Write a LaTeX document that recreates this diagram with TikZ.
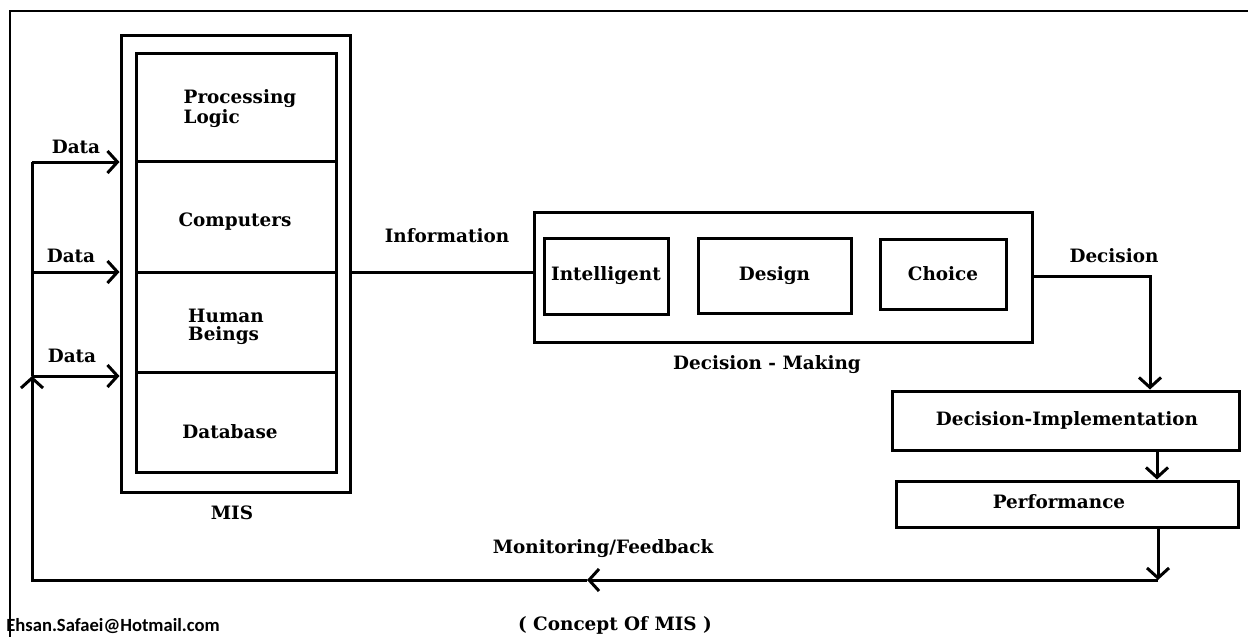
\documentclass[tikz,border=0pt]{standalone}
\usepackage{fontspec}
\setmainfont{DejaVu Serif}
\newfontfamily\mailfont{Carlito}
\usetikzlibrary{arrows.meta}
\begin{document}
\begin{tikzpicture}[x=0.5pt,y=-0.5pt,
  ln/.style={line width=1.5pt},
  box/.style={draw, line width=1.5pt, inner sep=0pt},
  lbl/.style={font=\fontsize{9.2pt}{9pt}\selectfont\bfseries, inner sep=0pt},
  arr/.style={line width=1.5pt, -{Straight Barb[length=5pt,width=11pt]}},
]
\useasboundingbox (0,0) rectangle (1248,637);
\draw[line width=1pt] (1248,11) -- (10,11) -- (10,637);

% MIS
\node[box, minimum width=114.5pt, minimum height=228.5pt] (mis) at (235.5,263.5) {};
\node[box, minimum width=100pt, minimum height=54pt] (c1) at (236,107) {};
\node[box, minimum width=100pt, minimum height=55.5pt] (c2) at (236,216.5) {};
\node[box, minimum width=100pt, minimum height=50pt] (c3) at (236,322) {};
\node[box, minimum width=100pt, minimum height=50pt] (c4) at (236,422) {};
\node[lbl, align=left] (t1) at (240,109) {Processing\\Logic};
\node[lbl] (t2) at (235,222) {Computers};
\node[lbl, align=left] (t3) at (226,327) {Human\\Beings};
\node[lbl] (t4) at (230,432) {Database};
\node[lbl] (tmis) at (232,513) {MIS};

% Data inputs
\coordinate (d1) at (32,162);
\coordinate (d2) at (32,272);
\coordinate (d3) at (32,376);
\draw[ln] (d1) -- (d3);
\draw[arr] (d1) -- (d1 -| mis.west);
\draw[arr] (d2) -- (d2 -| mis.west);
\draw[arr] (d3) -- (d3 -| mis.west);
\node[lbl] (l1) at (76,147) {Data};
\node[lbl] (l2) at (71,256) {Data};
\node[lbl] (l3) at (72,356) {Data};

% Decision making
\node[box, minimum width=249pt, minimum height=65pt] (dm) at (783,277) {};
\node[box, lbl, minimum width=62pt, minimum height=38pt] (int) at (606,276) {Intelligent};
\node[box, lbl, minimum width=76.5pt, minimum height=37.5pt] (des) at (774.5,275.5) {Design};
\node[box, lbl, minimum width=63pt, minimum height=35pt] (cho) at (943,274) {Choice};
\node[lbl] (tdm) at (767,365) {Decision - Making};

% Information
\coordinate (inf) at (350,272);
\draw[ln] (mis.east |- inf) -- (dm.west |- inf);
\node[lbl] (tinf) at (447,236) {Information};

% Implementation & performance
\node[box, minimum width=173.5pt, minimum height=29.5pt] (di) at (1065.5,420.5) {};
\node[lbl] (tdi) at (1067,420) {Decision-Implementation};
\node[box, minimum width=171pt, minimum height=23pt] (perf) at (1067,504) {};
\node[lbl] (tperf) at (1059,502) {Performance};

\coordinate (dec) at (1150,276);
\draw[arr] (dm.east |- dec) -| (dec |- di.north);
\node[lbl] (tdec) at (1114,256) {Decision};

\coordinate (xa) at (1157,0);
\draw[arr] (di.south -| xa) -- (perf.north -| xa);

% Feedback
\coordinate (xb) at (1158,0);
\coordinate (fb) at (1158,580);
\coordinate (fm) at (587,580);
\coordinate (fc) at (32,580);
\draw[arr] (perf.south -| xb) -- (fb);
\draw[arr] (fb) -- (fm);
\draw[arr] (fm) -- (fc) -- (d3);
\node[lbl] (tmon) at (603,549) {Monitoring/Feedback};

\node[lbl] (tcap) at (615,625) {( Concept Of MIS )};
\node[font=\mailfont\bfseries\fontsize{9.3pt}{9pt}\selectfont, inner sep=0pt] (mail) at (113,626) {Ehsan.Safaei@Hotmail.com};
\end{tikzpicture}
\end{document}
